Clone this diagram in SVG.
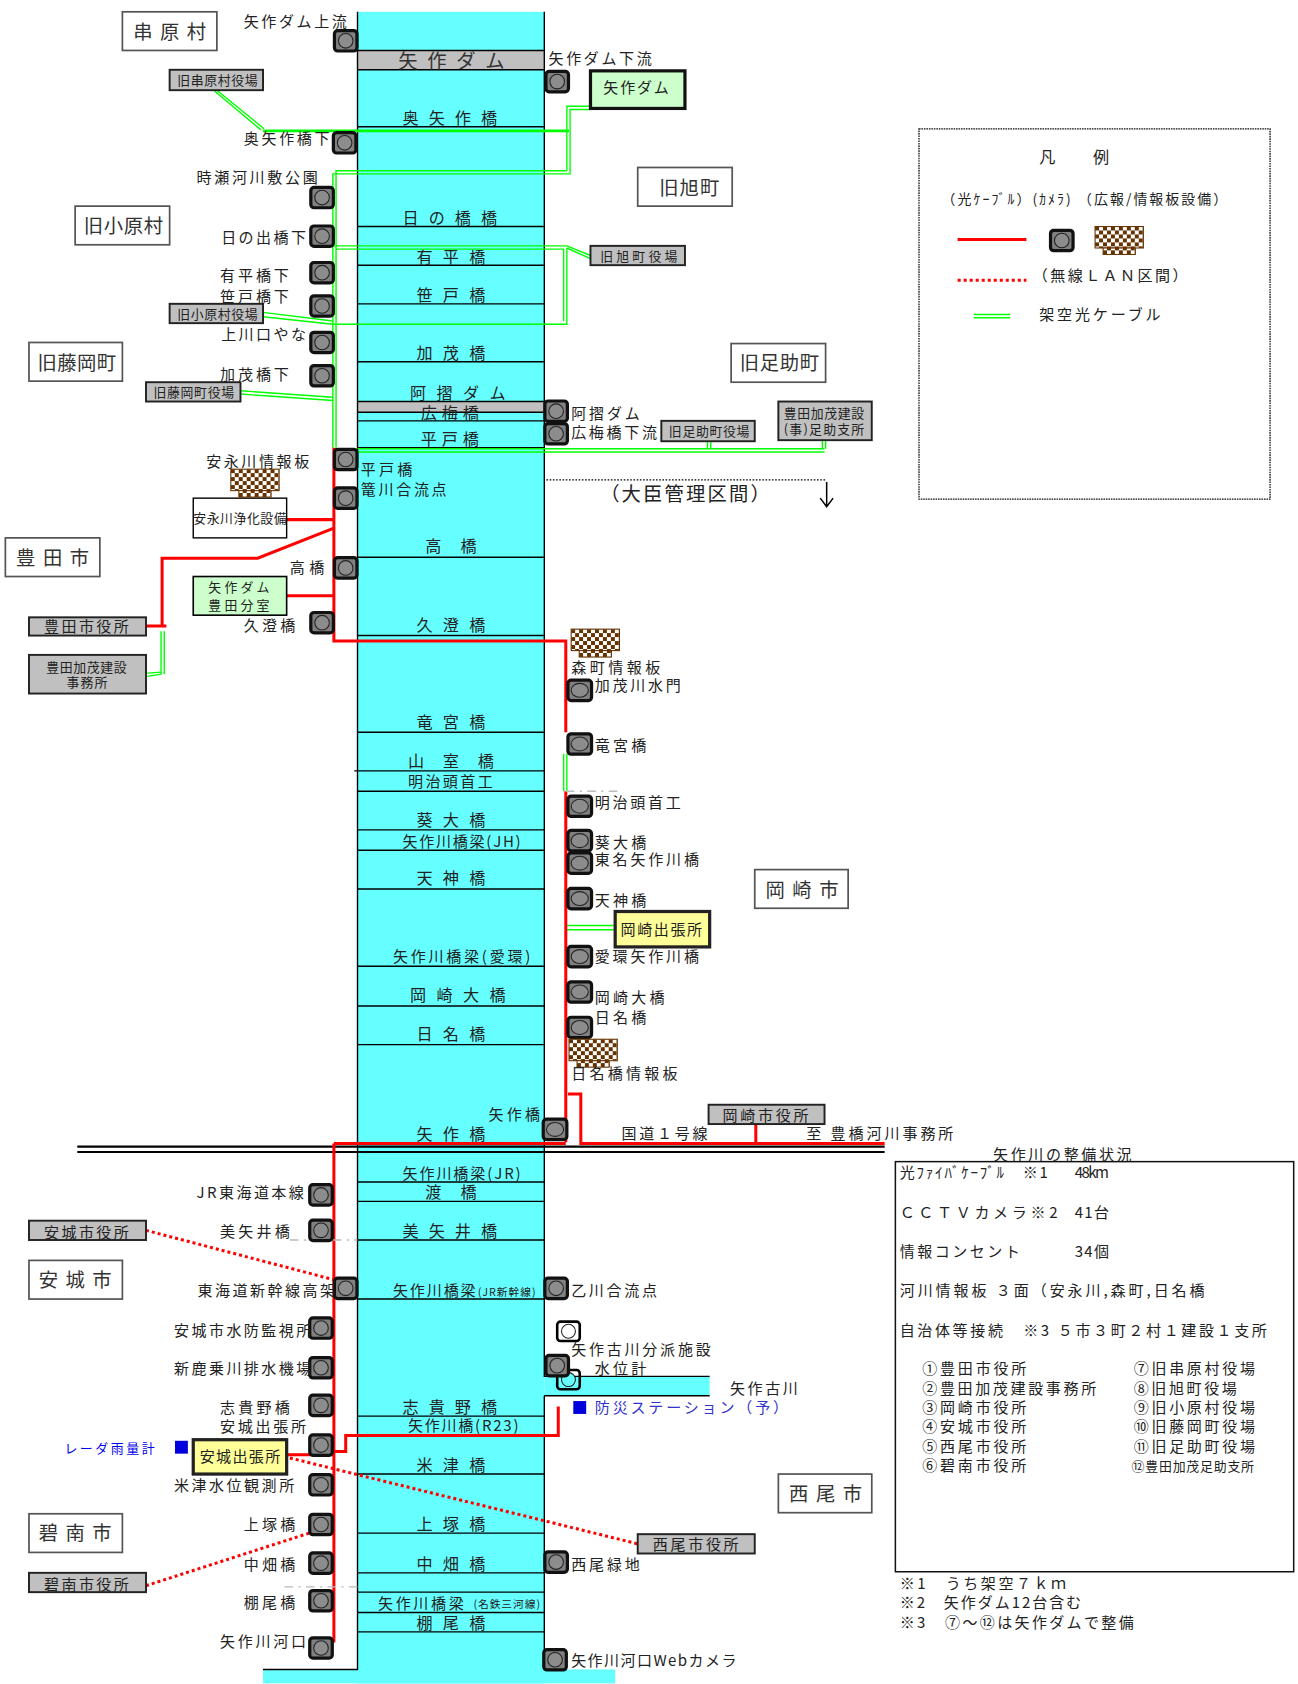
<svg xmlns="http://www.w3.org/2000/svg" width="1298" height="1684" viewBox="0 0 1298 1684">
<style>
text{font-family:"Noto Sans CJK JP","Noto Sans",sans-serif;fill:#222;font-size:14px;dominant-baseline:central;transform:translateY(-1px)}
.s{font-size:12px}.xs{font-size:10px}.m{font-size:15px}.r{font-size:18px;fill:#333}.bl{fill:#0000ee;font-size:12px}.bd{fill:#3333cc}
.river{fill:#66ffff}
.k{stroke:#000;stroke-width:1.3;fill:none}
.rb{fill:#fff;stroke:#555;stroke-width:1.6}
.gb{fill:#c0c0c0;stroke:#222;stroke-width:1.8}
.lg{fill:#ccffcc;stroke:#000;stroke-width:1.5}
.yb{fill:#ffff99;stroke:#222;stroke-width:3}
.g{stroke:#00ff00;stroke-width:1.3;fill:none}
.red{stroke:#ff0000;stroke-width:2.8;fill:none}
.rd{stroke:#ff0000;stroke-width:2.8;fill:none;stroke-dasharray:2.8 2.8}
.gy{stroke:#bbb;stroke-width:1.2;fill:none;stroke-dasharray:8 5 2 5}
</style>
<defs>
<pattern id="chk" width="7.4" height="7.4" patternUnits="userSpaceOnUse"><rect width="7.4" height="7.4" fill="#fff"/><rect width="3.7" height="3.7" fill="#663300"/><rect x="3.7" y="3.7" width="3.7" height="3.7" fill="#663300"/></pattern>
<g id="cam"><rect x="-10.5" y="-9.5" width="21" height="19" rx="3" fill="#808080" stroke="#111" stroke-width="3"/><circle r="6.8" fill="#8c8c8c" stroke="#222" stroke-width="1"/></g>
<g id="camw"><rect x="-11" y="-9.5" width="22" height="19" rx="3" fill="#808080" stroke="#111" stroke-width="3"/><ellipse rx="8" ry="6.5" fill="#8c8c8c" stroke="#222" stroke-width="1"/></g>
<g id="board"><rect width="45" height="20" fill="url(#chk)" stroke="#663300" stroke-width="1"/><rect x="7.5" y="20" width="30" height="6" fill="url(#chk)" stroke="#663300" stroke-width="1"/></g>
</defs>
<g transform="scale(1.0736)">
<g id="river">
<rect class="river" x="333" y="11" width="174" height="1557"/>
<rect class="river" x="245" y="1555" width="328" height="13"/>
<rect class="river" x="507" y="1282" width="154" height="18"/>
<rect x="333" y="47" width="174" height="18" fill="#c0c0c0"/>
<rect x="333" y="374" width="174" height="10" fill="#c0c0c0"/>
<path class="k" d="M333 11V1555H245M507 11V1282H661M507 1300H661M507 1300V1555"/>
<path class="k" d="M333 47H507M333 65H507M333 118H507M333 211H507M333 247H507M333 283H507M333 337H507M333 374H507M333 384H507M333 392H507M333 417H507M333 519H507M333 592H507M333 682H507M330 718H507M333 737H507M333 773H507M333 792H507M333 828H507M333 900H507M333 937H507M333 973H507M333 1101H507M333 1119H507M333 1155H507M333 1210H507M333 1319H507M333 1337H507M333 1373H507M333 1428H507M333 1465H507M333 1483H507M333 1502H507M333 1520H507"/>
<path d="M72 1068H824M72 1073H824" stroke="#000" stroke-width="2" fill="none"/>
</g>
<g id="bridges">
<text class="r" x="371" y="57" textLength="99">矢作ダム</text>
<text class="m" x="375" y="110" textLength="88">奥矢作橋</text>
<text class="m" x="375" y="203" textLength="88">日の橋橋</text>
<text class="m" x="388" y="239" textLength="64">有平橋</text>
<text class="m" x="388" y="275" textLength="64">笹戸橋</text>
<text class="m" x="388" y="329" textLength="64">加茂橋</text>
<text class="m" x="382" y="366" textLength="89">阿摺ダム</text>
<text class="m" x="392" y="385" textLength="54">広梅橋</text>
<text class="m" x="392" y="409" textLength="54">平戸橋</text>
<text class="m" x="396" y="509" textLength="48">高橋</text>
<text class="m" x="388" y="582" textLength="64">久澄橋</text>
<text class="m" x="388" y="673" textLength="64">竜宮橋</text>
<text class="m" x="380" y="709" textLength="80">山室橋</text>
<text x="380" y="728" textLength="79">明治頭首工</text>
<text class="m" x="388" y="764" textLength="64">葵大橋</text>
<text x="375" y="784" textLength="110">矢作川橋梁(JH)</text>
<text class="m" x="388" y="818" textLength="64">天神橋</text>
<text x="366" y="891" textLength="128">矢作川橋梁(愛環)</text>
<text class="m" x="382" y="927" textLength="89">岡崎大橋</text>
<text class="m" x="388" y="963" textLength="64">日名橋</text>
<text class="m" x="388" y="1056" textLength="64">矢作橋</text>
<text x="375" y="1093" textLength="110">矢作川橋梁(JR)</text>
<text class="m" x="396" y="1110" textLength="48">渡橋</text>
<text class="m" x="375" y="1147" textLength="88">美矢井橋</text>
<text x="366" y="1202" textLength="77">矢作川橋梁</text><text class="xs" x="445" y="1204" textLength="54">(JR新幹線)</text>
<text class="m" x="375" y="1311" textLength="88">志貴野橋</text>
<text x="380" y="1328" textLength="103">矢作川橋(R23)</text>
<text class="m" x="388" y="1365" textLength="64">米津橋</text>
<text class="m" x="388" y="1420" textLength="64">上塚橋</text>
<text class="m" x="388" y="1457" textLength="64">中畑橋</text>
<text x="352" y="1494" textLength="80">矢作川橋梁</text><text class="xs" x="441" y="1495" textLength="62">(名鉄三河線)</text>
<text class="m" x="388" y="1512" textLength="64">棚尾橋</text>
</g>
<g id="connectors">
<path class="g" d="M199 84L243 121M202 84L246 120"/>
<path d="M245 122H530" stroke="#00ff00" stroke-width="2.6" fill="none"/>
<path class="g" d="M550 99H528V159M550 102H531V162H310V417M528 159H313V417"/>
<path class="g" d="M310 229H528L550 238M313 232H525V299M528 231L550 241M528 231V302H310"/>
<path class="g" d="M245 291L310 299M245 295L310 302"/>
<path class="g" d="M224 364L310 370M224 367L310 373"/>
<path class="g" d="M333 418H768M333 421H768M659 411V418M662 411V418M766 410V418M769 410V418"/>
<path class="g" d="M150 588V628L137 630M153 588V628"/>
<path class="g" d="M137 627L150 626"/>
<path class="g" d="M525 702V737M528 702V737"/>
<path class="g" d="M527 862H573M527 866H573"/>
<path class="red" d="M311 417V597H527V682"/>
<path class="red" d="M527 737V1064M311 1065H527M311 1065V1530"/>
<path class="red" d="M311 484H267M311 492L240 520H151V583M136 583H155"/>
<path class="red" d="M267 555H311"/>
<path class="red" d="M529 1019H541V1065H824M704 1047V1064"/>
<path class="red" d="M520 1310V1337H322V1352H311M267 1355H311"/>
<path class="rd" d="M136 1146L311 1192"/>
<path class="rd" d="M270 1358L594 1438"/>
<path class="rd" d="M136 1477L288 1428"/>
<path class="gy" d="M527 737H576M270 1155H333M265 1478H333"/>
<path d="M509 447H770" stroke="#000" stroke-width="1.2" stroke-dasharray="1.5 1.5" fill="none"/>
<path d="M770 449V472M764 464L770 472L776 464" stroke="#000" stroke-width="1.4" fill="none"/>
</g>
<g id="regions">
<g id="r-kushihara"><rect class="rb" x="114" y="11" width="88" height="36"/><text class="r" x="124" y="30" textLength="68">串原村</text></g>
<g id="r-asahi"><rect class="rb" x="594" y="156" width="88" height="36"/><text class="r" x="614" y="175" textLength="56">旧旭町</text></g>
<g id="r-obara"><rect class="rb" x="70" y="192" width="88" height="36"/><text class="r" x="78" y="211" textLength="74">旧小原村</text></g>
<g id="r-fujioka"><rect class="rb" x="27" y="319" width="87" height="36"/><text class="r" x="35" y="338" textLength="73">旧藤岡町</text></g>
<g id="r-asuke"><rect class="rb" x="681" y="320" width="88" height="36"/><text class="r" x="689" y="338" textLength="74">旧足助町</text></g>
<g id="r-toyota"><rect class="rb" x="5" y="501" width="88" height="36"/><text class="r" x="15" y="520" textLength="68">豊田市</text></g>
<g id="r-okazaki"><rect class="rb" x="703" y="810" width="87" height="36"/><text class="r" x="713" y="829" textLength="68">岡崎市</text></g>
<g id="r-anjo"><rect class="rb" x="27" y="1174" width="87" height="36"/><text class="r" x="36" y="1192" textLength="68">安城市</text></g>
<g id="r-hekinan"><rect class="rb" x="27" y="1410" width="87" height="36"/><text class="r" x="36" y="1428" textLength="68">碧南市</text></g>
<g id="r-nishio"><rect class="rb" x="725" y="1373" width="87" height="36"/><text class="r" x="735" y="1392" textLength="68">西尾市</text></g>
</g>
<g id="offices">
<g id="o-kushihara"><rect class="gb" x="158" y="65" width="87" height="19"/><text class="s" x="165" y="75" textLength="75">旧串原村役場</text></g>
<g id="o-asahi"><rect class="gb" x="550" y="229" width="88" height="18"/><text x="559" y="239" class="s" textLength="72">旧旭町役場</text></g>
<g id="o-obara"><rect class="gb" x="158" y="283" width="87" height="18"/><text class="s" x="165" y="293" textLength="75">旧小原村役場</text></g>
<g id="o-fujioka"><rect class="gb" x="136" y="356" width="88" height="18"/><text class="s" x="143" y="366" textLength="75">旧藤岡町役場</text></g>
<g id="o-asuke"><rect class="gb" x="616" y="392" width="87" height="19"/><text class="s" x="623" y="402" textLength="75">旧足助町役場</text></g>
<g id="o-asuke-sub"><rect class="gb" x="725" y="374" width="87" height="36"/><text class="s" x="730" y="385" textLength="75">豊田加茂建設</text><text class="s" x="730" y="400" textLength="75">(事)足助支所</text></g>
<g id="o-toyota"><rect class="gb" x="27" y="575" width="109" height="17"/><text x="41" y="584" textLength="79">豊田市役所</text></g>
<g id="o-kamo"><rect class="gb" x="27" y="610" width="109" height="36"/><text class="s" x="43" y="622" textLength="75">豊田加茂建設</text><text class="s" x="62" y="636" textLength="38">事務所</text></g>
<g id="o-okazaki"><rect class="gb" x="660" y="1029" width="108" height="18"/><text x="673" y="1039" textLength="80">岡崎市役所</text></g>
<g id="o-anjo"><rect class="gb" x="27" y="1137" width="109" height="18"/><text x="41" y="1148" textLength="79">安城市役所</text></g>
<g id="o-hekinan"><rect class="gb" x="27" y="1465" width="109" height="18"/><text x="41" y="1476" textLength="79">碧南市役所</text></g>
<g id="o-nishio"><rect class="gb" x="594" y="1429" width="109" height="18"/><text x="608" y="1439" textLength="80">西尾市役所</text></g>
<g id="o-yahagidam"><rect x="550" y="66" width="88" height="35" fill="#ccffcc" stroke="#111" stroke-width="3"/><text x="562" y="82" textLength="61">矢作ダム</text></g>
<g id="o-toyota-bunshitsu"><rect class="lg" x="180" y="537" width="87" height="36"/><text class="s" x="194" y="547" textLength="57">矢作ダム</text><text class="s" x="194" y="564" textLength="57">豊田分室</text></g>
<g id="o-okazaki-office"><rect class="yb" x="573" y="849" width="88" height="33"/><text x="578" y="866" textLength="76">岡崎出張所</text></g>
<g id="o-anjo-office"><rect class="yb" x="180" y="1341" width="87" height="32"/><text x="186" y="1357" textLength="75">安城出張所</text></g>
<g id="o-yasunaga"><rect x="180" y="464" width="87" height="37" fill="#fff" stroke="#000" stroke-width="1.3"/><text class="s" x="180" y="483" textLength="87">安永川浄化設備</text></g>
</g>
<g id="cameras">
<g id="w1"><rect x="519" y="1231" width="21" height="18" rx="3" fill="#fff" stroke="#000" stroke-width="2.4"/><circle cx="529.500" cy="1240" r="6.500" fill="#fff" stroke="#222"/></g>
<g id="w2"><rect x="519" y="1276" width="21" height="18" rx="3" fill="none" stroke="#000" stroke-width="2.4"/><circle cx="529.500" cy="1285" r="6.500" fill="#66ffff" stroke="#222"/></g>
<g id="c1"><use href="#cam" x="322" y="38"/><text x="227" y="20" textLength="96">矢作ダム上流</text></g>
<g id="c2"><use href="#cam" x="519" y="76"/><text x="511" y="55" textLength="96">矢作ダム下流</text></g>
<g id="c3"><use href="#cam" x="321" y="133"/><text x="227" y="129" textLength="80">奥矢作橋下</text></g>
<g id="c4"><use href="#cam" x="300" y="184"/><text x="183" y="165" textLength="113">時瀬河川敷公園</text></g>
<g id="c5"><use href="#cam" x="300" y="220"/><text x="206" y="221" textLength="79">日の出橋下</text></g>
<g id="c6"><use href="#cam" x="300" y="254"/><text x="205" y="257" textLength="64">有平橋下</text></g>
<g id="c7"><use href="#cam" x="300" y="285"/><text x="205" y="276" textLength="64">笹戸橋下</text></g>
<g id="c8"><use href="#cam" x="300" y="319"/><text x="206" y="312" textLength="79">上川口やな</text></g>
<g id="c9"><use href="#cam" x="300" y="350"/><text x="205" y="349" textLength="64">加茂橋下</text></g>
<g id="c10"><use href="#cam" x="518" y="383"/><text x="532" y="385" textLength="64">阿摺ダム</text></g>
<g id="c11"><use href="#cam" x="518" y="404"/><text x="532" y="403" textLength="80">広梅橋下流</text></g>
<g id="c12"><use href="#cam" x="322" y="428"/><text x="336" y="437" textLength="48">平戸橋</text></g>
<g id="c13"><use href="#cam" x="322" y="464"/><text x="336" y="456" textLength="80">篭川合流点</text></g>
<g id="c14"><use href="#cam" x="322" y="529"/><text x="270" y="529" textLength="32">高橋</text></g>
<g id="c15"><use href="#cam" x="300" y="580"/><text x="227" y="583" textLength="48">久澄橋</text></g>
<g id="c16"><use href="#camw" x="540" y="643"/><text x="554" y="639" textLength="80">加茂川水門</text></g>
<g id="c17"><use href="#camw" x="540" y="693"/><text x="554" y="694" textLength="48">竜宮橋</text></g>
<g id="c18"><use href="#camw" x="540" y="751"/><text x="554" y="748" textLength="80">明治頭首工</text></g>
<g id="c19"><use href="#camw" x="540" y="783"/><text x="554" y="785" textLength="48">葵大橋</text></g>
<g id="c20"><use href="#camw" x="540" y="804"/><text x="554" y="801" textLength="97">東名矢作川橋</text></g>
<g id="c21"><use href="#camw" x="540" y="837"/><text x="554" y="839" textLength="48">天神橋</text></g>
<g id="c22"><use href="#camw" x="540" y="891"/><text x="554" y="891" textLength="97">愛環矢作川橋</text></g>
<g id="c23"><use href="#camw" x="540" y="924"/><text x="554" y="929" textLength="65">岡崎大橋</text></g>
<g id="c24"><use href="#camw" x="540" y="957"/><text x="554" y="948" textLength="48">日名橋</text></g>
<g id="c25"><use href="#camw" x="517" y="1052"/><text x="455" y="1038" textLength="48">矢作橋</text></g>
<g id="c26"><use href="#cam" x="299" y="1113"/><text x="183" y="1111" textLength="100">JR東海道本線</text></g>
<g id="c27"><use href="#cam" x="299" y="1146"/><text x="205" y="1147" textLength="65">美矢井橋</text></g>
<g id="c28"><use href="#cam" x="322" y="1200"/><text x="184" y="1202" textLength="128">東海道新幹線高架</text></g>
<g id="c29"><use href="#cam" x="299" y="1237"/><text x="162" y="1239" textLength="128">安城市水防監視所</text></g>
<g id="c30"><use href="#cam" x="299" y="1274"/><text x="162" y="1275" textLength="128">新鹿乗川排水機場</text></g>
<g id="c31"><use href="#cam" x="299" y="1309"/><text x="205" y="1311" textLength="65">志貴野橋</text></g>
<g id="c32"><use href="#cam" x="299" y="1346"/><text x="205" y="1329" textLength="80">安城出張所</text></g>
<g id="c33"><use href="#cam" x="299" y="1383"/><text x="162" y="1384" textLength="112">米津水位観測所</text></g>
<g id="c34"><use href="#cam" x="299" y="1420"/><text x="227" y="1420" textLength="48">上塚橋</text></g>
<g id="c35"><use href="#cam" x="299" y="1456"/><text x="227" y="1457" textLength="48">中畑橋</text></g>
<g id="c36"><use href="#cam" x="299" y="1491"/><text x="227" y="1493" textLength="48">棚尾橋</text></g>
<g id="c37"><use href="#cam" x="299" y="1535"/><text x="205" y="1529" textLength="80">矢作川河口</text></g>
<g id="c38"><use href="#cam" x="518" y="1200"/><text x="532" y="1202" textLength="80">乙川合流点</text></g>
<g id="c39"><use href="#cam" x="519" y="1272"/><text x="532" y="1257" textLength="130">矢作古川分派施設</text></g>
<g id="c40"><use href="#cam" x="518" y="1455"/><text x="532" y="1457" textLength="64">西尾緑地</text></g>
<g id="c41"><use href="#cam" x="517" y="1546"/><text x="532" y="1547" textLength="154">矢作川河口Webカメラ</text></g>
</g>
<g id="boards">
<g id="b1"><use href="#board" x="215" y="437"/><text x="192" y="430" textLength="96">安永川情報板</text></g>
<g id="b2"><use href="#board" x="532" y="586"/><text x="532" y="622" textLength="83">森町情報板</text></g>
<g id="b3"><use href="#board" x="530" y="968"/><text x="532" y="1000" textLength="99">日名橋情報板</text></g>
</g>
<g id="notes">
<text x="559" y="460" class="r" textLength="158" style="fill:#222">（大臣管理区間）</text>
<text x="579" y="1056" textLength="80">国道１号線</text>
<text x="751" y="1056" textLength="137">至 豊橋河川事務所</text>
<text x="554" y="1275" textLength="48">水位計</text>
<text x="680" y="1293" textLength="63">矢作古川</text>
<rect x="534" y="1305" width="12" height="12" fill="#0000dd"/>
<text class="bd" x="554" y="1311" textLength="180">防災ステーション（予）</text>
<text class="bl" x="60" y="1349" textLength="84">レーダ雨量計</text>
<rect x="163" y="1342" width="12" height="12" fill="#0000dd"/>
</g>
<g id="legend">
<rect x="856" y="120" width="327" height="345" fill="#fff" stroke="#111" stroke-width="1.2" stroke-dasharray="1.500 0.800"/>
<text x="968" y="146" textLength="15" class="m">凡</text><text x="1018" y="146" textLength="15" class="m">例</text>
<text x="877" y="185" textLength="266" style="font-size:13px">（光ｹｰﾌﾞﾙ）(ｶﾒﾗ) （広報/情報板設備）</text>
<path class="red" d="M892 223H956"/>
<use href="#cam" x="989" y="224"/>
<use href="#board" x="1020" y="211"/>
<path class="rd" d="M892 261H956"/>
<text x="962" y="257" textLength="144">（無線ＬＡＮ区間）</text>
<path class="g" d="M907 293H941M907 296H941"/>
<text x="968" y="293" textLength="113">架空光ケーブル</text>
</g>
<g id="status">
<text x="925" y="1075" textLength="129">矢作川の整備状況</text>
<rect x="834" y="1082" width="371" height="382" fill="#fff" stroke="#111" stroke-width="1.4"/>
<text x="838" y="1092" textLength="138">光ﾌｧｲﾊﾞｹｰﾌﾞﾙ　※1</text><text x="1001" y="1092" textLength="32">48km</text>
<text x="838" y="1129" textLength="147">ＣＣＴＶカメラ※2</text><text x="1001" y="1129" textLength="32">41台</text>
<text x="838" y="1166" textLength="112">情報コンセント</text><text x="1001" y="1166" textLength="32">34個</text>
<text x="838" y="1202" textLength="284">河川情報板 ３面（安永川,森町,日名橋</text>
<text x="838" y="1239" textLength="342">自治体等接続　※3 ５市３町２村１建設１支所</text>
<text x="859" y="1275" textLength="97">①豊田市役所</text>
<text x="859" y="1293" textLength="162">②豊田加茂建設事務所</text>
<text x="859" y="1311" textLength="97">③岡崎市役所</text>
<text x="859" y="1329" textLength="97">④安城市役所</text>
<text x="859" y="1347" textLength="97">⑤西尾市役所</text>
<text x="859" y="1365" textLength="97">⑥碧南市役所</text>
<text x="1056" y="1275" textLength="113">⑦旧串原村役場</text>
<text x="1056" y="1293" textLength="96">⑧旧旭町役場</text>
<text x="1056" y="1311" textLength="113">⑨旧小原村役場</text>
<text x="1056" y="1329" textLength="113">⑩旧藤岡町役場</text>
<text x="1056" y="1347" textLength="113">⑪旧足助町役場</text>
<text class="s" x="1054" y="1366" textLength="114">⑫豊田加茂足助支所</text>
<text x="838" y="1475" textLength="155">※1　うち架空７ｋｍ</text>
<text x="838" y="1493" textLength="169">※2　矢作ダム12台含む</text>
<text x="838" y="1511" textLength="218">※3　⑦～⑫は矢作ダムで整備</text>
</g>
</g>
</svg>
